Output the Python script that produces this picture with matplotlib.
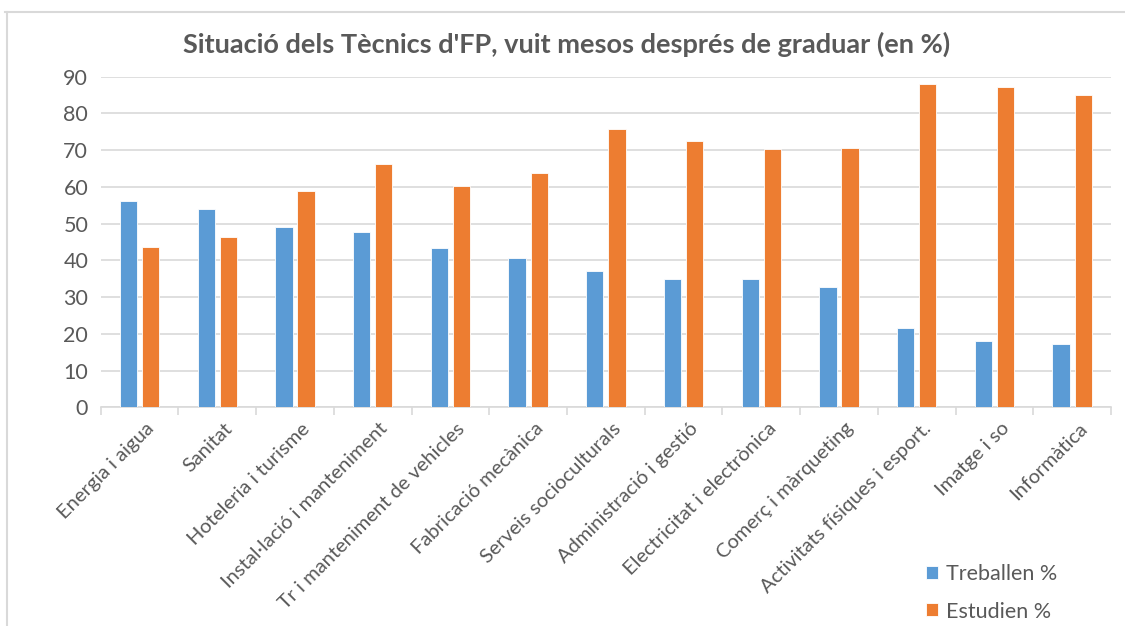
import matplotlib
matplotlib.use("Agg")
import matplotlib.pyplot as plt
import matplotlib.transforms as mtransforms
import numpy as np
from matplotlib.lines import Line2D

categories = ["Energia i aigua", "Sanitat", "Hoteleria i turisme", "Instal·lació i manteniment",
              "Tr i manteniment de vehicles", "Fabricació mecànica", "Serveis socioculturals",
              "Administració i gestió", "Electricitat i electrònica", "Comerç i màrqueting",
              "Activitats físiques i esport.", "Imatge i so", "Informàtica"]
treballen = [56.1, 54.0, 49.2, 47.6, 43.3, 40.6, 37.0, 35.0, 34.8, 32.8, 21.6, 18.0, 17.2]
estudien = [43.6, 46.3, 58.8, 66.3, 60.2, 63.8, 75.7, 72.5, 70.4, 70.5, 87.9, 87.2, 85.1]
yticks = [0, 10, 20, 30, 40, 50, 60, 70, 80, 90]
title = "Situació dels Tècnics d'FP, vuit mesos després de graduar (en %)"
series_names = ["Treballen %", "Estudien %"]

plt.rcParams['font.family'] = ['Lato', 'DejaVu Sans']
TXT = '#595959'
GRID = '#D9D9D9'
BLUE = '#5B9BD5'
ORANGE = '#ED7D31'

fig = plt.figure(figsize=(11.25, 6.26), dpi=100)
# chart border
fig.add_artist(Line2D([5/1125, 1], [1-12/626, 1-12/626], color=GRID, lw=1.5, transform=fig.transFigure))
fig.add_artist(Line2D([7/1125, 7/1125], [0, 1-12/626], color=GRID, lw=1.5, transform=fig.transFigure))

ax = fig.add_axes([100.7/1125, 1-407.3/626, (1111-100.7)/1125, (407.3-76.7)/626])
x = np.arange(len(categories))
w = 0.222
off = 0.142
b1 = ax.bar(x - off, treballen, w, color=BLUE, edgecolor='white', linewidth=0.6, label=series_names[0], zorder=3)
b2 = ax.bar(x + off, estudien, w, color=ORANGE, edgecolor='white', linewidth=0.6, label=series_names[1], zorder=3)

ax.set_xlim(-0.5, len(categories) - 0.5)
ax.set_ylim(0, 90)
ax.set_yticks(yticks)
ax.yaxis.grid(True, color=GRID, lw=1.2, zorder=0)
ax.set_axisbelow(True)
for s in ['top', 'right', 'left']:
    ax.spines[s].set_visible(False)
ax.spines['bottom'].set_color(GRID)
ax.spines['bottom'].set_linewidth(1.2)
ax.tick_params(axis='y', length=0, labelsize=15.5, labelcolor=TXT, pad=9)
ax.set_xticks(x)
ax.set_xticklabels(categories, rotation=45, ha='right', va='top', rotation_mode='anchor',
                   fontsize=14.5, color=TXT)
ax.tick_params(axis='x', which='major', length=0, pad=9)
ax.set_xticks(np.arange(-0.5, len(categories)), minor=True)
ax.tick_params(axis='x', which='minor', length=6, color=GRID, width=1.2)
shift = mtransforms.ScaledTranslation(6/100, 0, fig.dpi_scale_trans)
for lbl in ax.get_xticklabels():
    lbl.set_transform(lbl.get_transform() + shift)

fig.text(567/1125, 1-44/626, title, ha='center', va='center', fontsize=19.5, fontweight='bold', color=TXT)

fig.legend(handles=[b1, b2], labels=series_names, loc='upper left',
           bbox_to_anchor=(907/1125, 1-545/626), frameon=False, fontsize=15.5,
           labelcolor=TXT, handlelength=0.55, handleheight=0.55, handletextpad=0.35,
           labelspacing=0.8)

fig.savefig("out.png", dpi=100)
